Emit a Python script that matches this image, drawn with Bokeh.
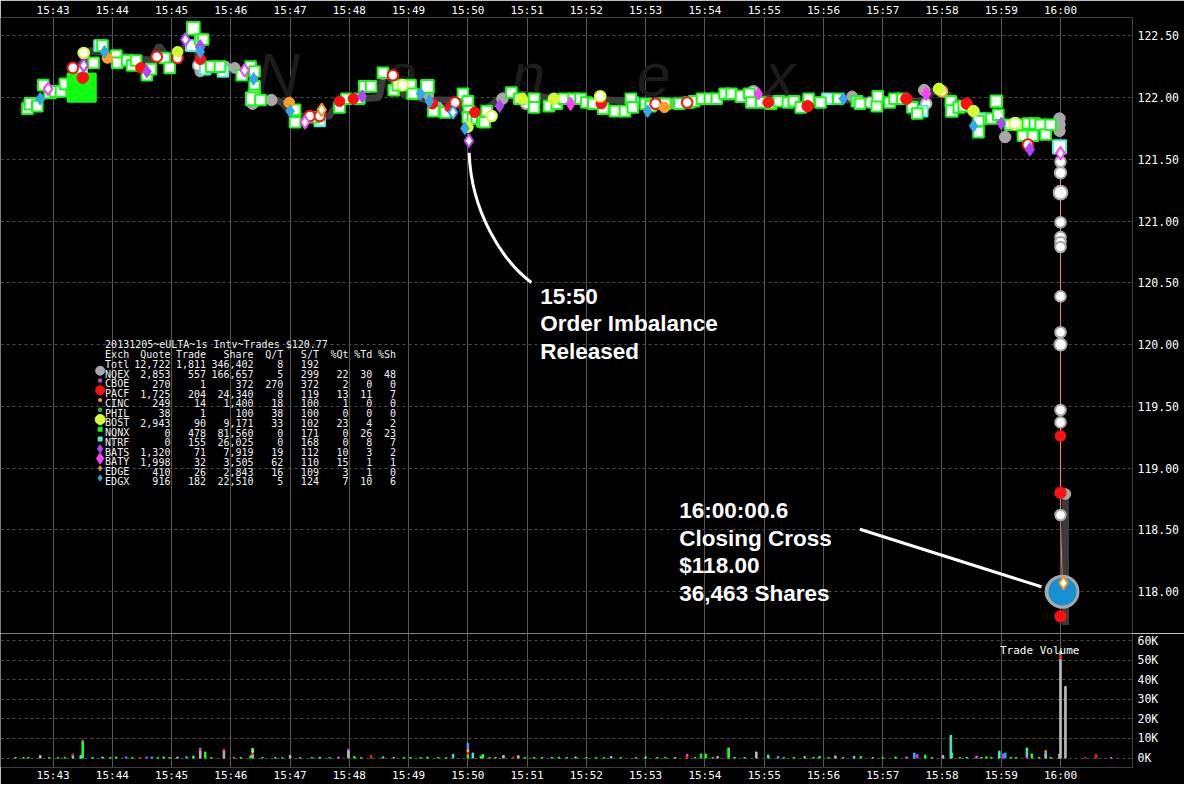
import math
import numpy as np
from bokeh.plotting import figure
from bokeh.models import ColumnDataSource, Range1d
from bokeh.layouts import column
from bokeh.embed import file_html
from bokeh.resources import INLINE
from bokeh.core.properties import value

# ---------------- axis ticks (time = seconds after 15:43:00) ----------------
minute_secs = [0, 60, 120, 180, 240, 300, 360, 420, 480, 540, 600, 660, 720, 780, 840, 900, 960, 1020]
minute_labels = ["15:43", "15:44", "15:45", "15:46", "15:47", "15:48", "15:49", "15:50", "15:51",
                 "15:52", "15:53", "15:54", "15:55", "15:56", "15:57", "15:58", "15:59", "16:00"]
price_ticks = [118.0, 118.5, 119.0, 119.5, 120.0, 120.5, 121.0, 121.5, 122.0, 122.5]
price_labels = ["118.00", "118.50", "119.00", "119.50", "120.00", "120.50", "121.00", "121.50", "122.00", "122.50"]
vol_ticks = [0, 10000, 20000, 30000, 40000, 50000, 60000]
vol_labels = ["0K", "10K", "20K", "30K", "40K", "50K", "60K"]

# ---------------- trades by exchange (sec, price, shares) ----------------
nqnx_sec = [
    -26, -23, -16, -10, -3, 2, 8, 12, 29, 41,
    50, 64, 65, 75, 80, 84, 95, 99, 113, 118,
    142, 149, 152, 160, 169, 191, 200, 204, 204, 204,
    202, 210, 245, 245, 264, 290, 297, 310, 315, 322,
    334, 345, 349, 362, 364, 379, 385, 397, 415, 420,
    421, 420, 425, 429, 435, 437, 439, 464, 472, 487,
    487, 502, 510, 517, 527, 534, 540, 547, 557, 569,
    579, 585, 587, 600, 605, 614, 620, 634, 644, 649,
    657, 665, 672, 680, 687, 697, 705, 707, 717, 727,
    735, 744, 750, 757, 765, 777, 795, 814, 817, 834,
    835, 847, 852, 860, 870, 875, 909, 910, 917, 922,
    937, 937, 950, 955, 957, 969, 980, 982, 987, 992,
    994, 1000, 1005, 1010,
]
nqnx_px = [
    121.91, 121.95, 121.93, 122.10, 122.04, 122.05, 122.05, 122.11, 122.08, 122.28,
    122.42, 122.34, 122.28, 122.30, 122.26, 122.30, 122.18, 122.23, 122.32, 122.24,
    122.56, 122.47, 122.47, 122.25, 122.25, 122.18, 122.25, 122.21, 122.09, 122.02,
    121.99, 121.98, 121.90, 121.80, 121.84, 121.92, 121.99, 121.99, 122.09, 122.09,
    122.20, 122.06, 122.10, 122.10, 122.03, 122.09, 121.89, 121.88, 122.03, 121.97,
    121.89, 121.84, 121.83, 121.83, 121.81, 121.80, 121.89, 122.04, 121.99, 121.99,
    121.92, 121.93, 121.95, 121.99, 121.99, 121.99, 121.96, 121.95, 121.91, 121.89,
    121.89, 121.99, 121.92, 121.95, 121.93, 121.95, 121.95, 121.95, 121.96, 121.97,
    121.99, 121.99, 121.99, 122.03, 122.03, 122.01, 122.03, 121.96, 121.96, 121.95,
    121.97, 121.96, 121.97, 121.92, 121.99, 121.96, 121.99, 121.97, 121.95, 121.93,
    122.01, 121.96, 121.99, 121.99, 121.92, 121.87, 121.97, 121.89, 121.92, 121.93,
    121.81, 121.72, 121.83, 121.97, 121.86, 121.78, 121.78, 121.69, 121.79, 121.69,
    121.79, 121.78, 121.70, 121.78,
]
nqnx_sh = [
    100, 200, 100, 100, 200, 100, 100, 100, 8700, 100,
    100, 100, 100, 100, 100, 100, 100, 100, 100, 100,
    400, 100, 100, 100, 100, 100, 100, 100, 100, 100,
    500, 100, 100, 100, 100, 100, 100, 100, 100, 100,
    100, 100, 100, 100, 100, 400, 100, 100, 100, 100,
    100, 100, 100, 100, 200, 100, 100, 100, 100, 100,
    100, 100, 100, 100, 100, 100, 100, 100, 100, 100,
    100, 100, 100, 100, 100, 100, 100, 100, 100, 100,
    100, 100, 100, 100, 100, 200, 100, 100, 100, 100,
    100, 100, 100, 100, 100, 100, 100, 100, 100, 100,
    100, 100, 100, 100, 100, 100, 100, 200, 100, 100,
    100, 100, 100, 200, 100, 100, 100, 100, 100, 100,
    100, 100, 100, 100,
]
ntrf_sec = [29, 47, 140, 154, 172, 270, 587, 784, 880, 940, 1019]
ntrf_px = [122.20, 122.42, 122.42, 122.23, 122.21, 121.81, 121.96, 121.99, 121.89, 121.83, 121.60]
ntrf_sh = [100, 100, 100, 100, 100, 100, 100, 100, 100, 100, 500]

nqex_sec = [149, 174, 184, 202, 221, 300, 334, 380, 390, 455, 629, 809, 882, 964, 1019, 1019, 1019, 1025, 1020]
nqex_px = [122.21, 122.25, 122.24, 121.95, 121.98, 121.99, 122.19, 122.02, 121.92, 121.99,
           121.95, 122.01, 122.06, 121.68, 121.83, 121.78, 121.73, 118.79, 118.00]
nqex_sh = [100, 200, 100, 200, 200, 100, 100, 100, 100, 200, 100, 100, 200, 200, 200, 200, 200, 100, 18000]
nqex_w_sec = [147, 479, 709, 827, 884, 1020, 1020, 1020, 1020, 1020, 1020, 1020, 1020, 1020, 1020, 1020, 1020, 1020]
nqex_w_px = [122.26, 121.95, 122.05, 121.96, 121.95, 121.48, 121.39, 121.23, 120.99, 120.87,
             120.83, 120.79, 120.39, 120.10, 120.00, 119.47, 119.37, 118.62]
nqex_w_sh = [100, 100, 100, 100, 100, 100, 200, 600, 100, 100, 100, 100, 100, 100, 300, 100, 100, 100]

pacf_sec = [30, 89, 149, 290, 304, 384, 402, 427, 555, 724, 764, 864, 925, 1020, 1020, 1020]
pacf_px = [122.16, 122.24, 122.31, 121.97, 121.99, 121.95, 121.92, 121.88, 121.95, 121.96,
           121.93, 121.99, 121.95, 119.26, 118.80, 117.80]
pacf_sh = [200, 100, 100, 100, 100, 100, 100, 100, 100, 100, 200, 200, 200, 100, 200, 200]
pacf_w_sec = [20, 105, 126, 260, 270, 344, 407, 610, 642, 987]
pacf_w_px = [122.24, 122.33, 122.32, 121.85, 121.85, 122.18, 121.96, 121.95, 121.96, 121.62]
pacf_w_sh = [100, 100, 100, 100, 100, 100, 100, 100, 100, 100]

bost_sec = [126, 420, 475, 507, 897, 932]
bost_px = [122.37, 121.76, 121.99, 121.99, 122.07, 121.89]
bost_sh = [100, 100, 100, 200, 200, 200]
bost_w_sec = [31, 354, 444, 554, 974]
bost_w_px = [122.36, 122.10, 121.85, 122.01, 121.79]
bost_w_sh = [100, 100, 100, 100, 200]

bats_sec = [95, 149, 313, 452, 960, 989]
bats_px = [122.21, 122.41, 122.01, 121.93, 121.79, 121.58]
bats_sh = [100, 300, 100, 100, 100, 200]
bats_w_sec = [31, 134, 421]
bats_w_px = [122.26, 122.47, 121.65]
bats_w_sh = [100, 100, 100]

baty_sec = [524, 714, 884]
baty_px = [121.95, 122.03, 122.03]
baty_sh = [200, 100, 200]
baty_w_sec = [-5, 194, 255, 1020]
baty_w_px = [122.07, 122.22, 121.80, 121.55]
baty_w_sh = [100, 100, 100, 100]

edgx_sec = [-13, 52, 149, 203, 240, 372, 381, 417, 602, 800, 932]
edgx_px = [121.99, 122.37, 122.37, 122.15, 121.89, 122.03, 121.97, 121.75, 121.89, 121.99, 121.77]
edgx_sh = [100, 100, 100, 100, 100, 100, 100, 100, 100, 100, 100]
edgx_w_sec = [405]
edgx_w_px = [121.88]
edgx_w_sh = [100]

edge_w_sec = [272, 1023]
edge_w_px = [121.90, 118.07]
edge_w_sh = [100, 100]

cinc_sec = [55, 239, 619]
cinc_px = [122.32, 121.96, 121.92]
cinc_sh = [100, 100, 100]
cinc_w_sec = [900]
cinc_w_px = [122.05]
cinc_w_sh = [100]

cross_sec = [1022]
cross_px = [118.00]
cross_sh = [36463]

# NBBO mid (dark band); NaN = gap
nbbo_sec = [-32, -20, 0, 15, 37, 60, 100, 107, 118, 140,
            150, 160, 200, 205, 230, 245, 280, 290, 330, 335,
            345, 355, 380, 410, 420, 430, 460, 500, 545, 560,
            600, 700, 800, 880, 890, 905, 935, 960, 1018, float("nan"),
            1025, 1025]
nbbo_mid = [121.95, 121.95, 122.05, 122.10, 122.38, 122.35, 122.30, 122.42, 122.30, 122.45,
            122.30, 122.22, 122.22, 121.98, 121.97, 121.85, 121.85, 121.98, 122.00, 122.20,
            122.13, 122.02, 121.98, 121.98, 121.80, 121.85, 122.04, 122.00, 121.97, 121.98,
            121.97, 122.00, 121.98, 121.97, 122.05, 122.03, 121.85, 121.80, 121.78, float("nan"),
            118.78, 117.73]

# ---------------- trade volume by exchange (sec, shares) ----------------
vol_nqex_sec = [-30, -13, 20, 126, 149, 173, 202, 240, 299, 345, 456, 471, 630, 673, 712, 792, 901, 1005, 1019, 1020, 1025]
vol_nqex_sh = [200, 1300, 1400, 500, 4000, 4000, 2000, 1300, 4000, 300, 1300, 1200, 300, 800, 3100, 1100, 1300, 2500, 2100, 50500, 36500]
vol_nqnx_sec = [-38, -25, -4, 5, 12, 30, 40, 58, 64, 80,
                106, 112, 118, 142, 154, 160, 190, 200, 212, 232,
                250, 262, 280, 305, 312, 355, 362, 372, 379, 390,
                398, 420, 433, 435, 442, 448, 478, 487, 495, 512,
                520, 540, 550, 558, 575, 590, 612, 620, 650, 656,
                661, 668, 684, 690, 700, 740, 750, 761, 770, 776,
                785, 800, 818, 830, 840, 853, 883, 890, 910, 918,
                925, 940, 945, 950, 970, 975, 991, 998, 1010]
vol_nqnx_sh = [300, 300, 300, 200, 400, 8800, 300, 200, 500, 300,
               300, 600, 300, 1000, 3100, 300, 300, 1200, 300, 200,
               300, 300, 200, 800, 300, 300, 300, 300, 500, 300,
               200, 2000, 800, 1800, 300, 300, 300, 300, 300, 500,
               300, 300, 300, 300, 300, 300, 300, 300, 300, 2100,
               2100, 300, 5100, 300, 300, 300, 300, 800, 300, 800,
               300, 300, 800, 300, 300, 600, 1500, 300, 2600, 300,
               300, 300, 600, 300, 300, 300, 2100, 300, 300]
vol_pacf_sec = [20, 30, 88, 149, 173, 202, 322, 420, 466, 642, 1020, 1045, 1056]
vol_pacf_sh = [700, 500, 300, 500, 600, 1000, 1300, 1500, 500, 1200, 2500, 300, 1800]
vol_bost_sec = [202, 420]
vol_bost_sh = [1000, 1000]
vol_baty_sec = [149, 183, 289, 420, 642, 864, 935, 986, 1071]
vol_baty_sh = [500, 300, 500, 1000, 600, 600, 1000, 1100, 300]
vol_bats_sec = [95, 299, 875, 962]
vol_bats_sh = [600, 600, 1800, 2100]
vol_edgx_sec = [74, 100, 135, 405, 420, 734, 872, 964, 1005]
vol_edgx_sh = [600, 600, 700, 800, 2100, 800, 2600, 2600, 700]
vol_edge_sec = [1005]
vol_edge_sh = [600]
vol_ntrf_sec = [28, 50, 202, 225, 270, 334, 405, 425, 505, 529, 565, 600, 724, 811, 909, 958, 986, 1020]
vol_ntrf_sh = [1200, 500, 1000, 300, 400, 600, 1000, 2600, 300, 600, 800, 600, 1500, 800, 11600, 3500, 4000, 1500]

# ---------------- summary table ----------------
tbl_title = "20131205~eULTA~1s Intv~Trades $120.77"
tbl_exch = ["Totl", "NQEX", "CBOE", "PACF", "CINC", "PHIL", "BOST", "NQNX", "NTRF", "BATS", "BATY", "EDGE", "EDGX"]
tbl_quote = [12722, 2853, 270, 1725, 249, 38, 2943, 0, 0, 1320, 1998, 410, 916]
tbl_trade = [1811, 557, 1, 204, 14, 1, 90, 478, 155, 71, 32, 26, 182]
tbl_share = [346402, 166657, 372, 24340, 1400, 100, 9171, 81560, 26025, 7919, 3505, 2843, 22510]
tbl_qt = [8, 5, 270, 8, 18, 38, 33, 0, 0, 19, 62, 16, 5]
tbl_st = [192, 299, 372, 119, 100, 100, 102, 171, 168, 112, 110, 109, 124]
tbl_pqt = [None, 22, 2, 13, 1, 0, 23, 0, 0, 10, 15, 3, 7]
tbl_ptd = [None, 30, 0, 11, 0, 0, 4, 26, 8, 3, 1, 1, 10]
tbl_psh = [None, 48, 0, 7, 0, 0, 2, 23, 7, 2, 1, 0, 6]

# ---------------- styles ----------------
EX_STYLE = {
    "NQEX": ("circle", "#a8a8a8"),
    "CBOE": ("square", "#d040d0"),
    "PACF": ("circle", "#ff1010"),
    "CINC": ("circle", "#ffa020"),
    "PHIL": ("square", "#30c030"),
    "BOST": ("circle", "#d4ff30"),
    "NQNX": ("square", "#10ff10"),
    "NTRF": ("square", "#48f0d0"),
    "BATS": ("diamond", "#b444ff"),
    "BATY": ("diamond", "#ff40ff"),
    "EDGE": ("diamond", "#f09020"),
    "EDGX": ("diamond", "#30a8ec"),
}
LEGEND_SIZE = {"NQEX": 9, "CBOE": 3, "PACF": 9, "CINC": 3, "PHIL": 3, "BOST": 10,
               "NQNX": 4, "NTRF": 4, "BATS": 8, "BATY": 11, "EDGE": 5, "EDGX": 6}

# ---------------- layout: figure = reference canvas scaled to 1184x784 ----------------
W, H1, H2 = 1184, 633, 151
RB, TB, BB = 52, 14, 16
SX, SY = 1184.0 / 1200.0, 784.0 / 800.0


def t_at(x):      # reference pixel x -> seconds after 15:43
    return (x - 53.3) / 1.001


def p_at(y):      # reference pixel y -> price
    return 118.0 + (603.0 - y) / 126.67


def v_at(y):      # reference pixel y -> shares
    return (774.0 - y) * 60000.0 / 121.0


def msize(sh):
    return min(31.0, 8.5 + 2.1 * math.sqrt(sh / 100.0))


def style_axis(ax, size, standoff):
    ax.axis_line_color = None
    ax.major_tick_line_color = None
    ax.minor_tick_line_color = None
    ax.major_tick_out = 0
    ax.major_tick_in = 0
    ax.major_label_standoff = standoff
    ax.major_label_text_color = "#ffffff"
    ax.major_label_text_font = "DejaVu Sans Mono"
    ax.major_label_text_font_size = size


def style_grids(fig):
    fig.xgrid.grid_line_color = "#585858"
    fig.xgrid.grid_line_width = 1
    fig.ygrid.grid_line_color = "#4c4c4c"
    fig.ygrid.grid_line_dash = "3 3"
    fig.ygrid.grid_line_width = 1


x_range = Range1d(t_at(0), t_at((W - RB) / SX))

common = dict(output_backend="svg", toolbar_location=None, tools="",
              min_border_left=0, min_border_right=RB,
              background_fill_color="black", border_fill_color="black",
              outline_line_color=None)

# ======================= price panel =======================
p = figure(width=W, height=H1, x_range=x_range,
           y_range=Range1d(p_at(H1 / SY), p_at(TB / SY)),
           x_axis_location="above", y_axis_location="right",
           min_border_top=TB, min_border_bottom=0, **common)
p.xaxis.ticker = minute_secs
p.xaxis.major_label_overrides = {s: l for s, l in zip(minute_secs, minute_labels)}
p.yaxis.ticker = price_ticks
p.yaxis.major_label_overrides = {t: l for t, l in zip(price_ticks, price_labels)}
style_axis(p.xaxis[0], "11px", 1)
style_axis(p.yaxis[0], "11.5px", 5)
style_grids(p)

# watermark
wm_letters = ["N", "a", "n", "e", "x"]
wm_x = [281, 406, 535, 662, 790]
p.text(x=[t_at(v) for v in wm_x], y=[p_at(73)] * 5, text=wm_letters,
       text_font=value("Liberation Sans"), text_font_style="italic", text_font_size="61px",
       text_color="#1c1c1c", text_align="center", text_baseline="alphabetic")

# NBBO band
p.line(np.array(nbbo_sec, dtype=float), np.array(nbbo_mid, dtype=float),
       line_color="#3c3c3c", line_width=7)

# trade line through the closing drop
drop = []
for secs, pxs in [(ntrf_sec, ntrf_px), (baty_w_sec, baty_w_px), (nqex_w_sec, nqex_w_px),
                  (pacf_sec, pacf_px), (cross_sec, cross_px)]:
    for s, v in zip(secs, pxs):
        if 1019 <= s <= 1023 and v >= 118.0:
            drop.append((s, v))
drop.sort(key=lambda d: -d[1])
p.line([d[0] for d in drop], [d[1] for d in drop], line_color="#ff8080", line_width=1)


def add_prints(sec, px, sh, ex, hollow):
    marker, color = EX_STYLE[ex]
    k = 1.2 if marker == "diamond" else 1.0
    src = ColumnDataSource(dict(
        x=sec, y=px,
        s=[msize(v) * k for v in sh],
        f=[("white" if (hollow and v < 5000) else color) for v in sh],
    ))
    p.scatter("x", "y", source=src, size="s", marker=marker, fill_color="f",
              line_color=color, line_width=2 if hollow else 1)


add_prints(nqex_sec, nqex_px, nqex_sh, "NQEX", False)
add_prints(nqex_w_sec, nqex_w_px, nqex_w_sh, "NQEX", True)
add_prints(ntrf_sec, ntrf_px, ntrf_sh, "NTRF", True)
add_prints(nqnx_sec, nqnx_px, nqnx_sh, "NQNX", True)
p.scatter(cross_sec, cross_px, size=[msize(v) for v in cross_sh], marker="circle",
          fill_color="#1690d2", line_color="#a8a8a8", line_width=3)
add_prints(pacf_sec, pacf_px, pacf_sh, "PACF", False)
add_prints(pacf_w_sec, pacf_w_px, pacf_w_sh, "PACF", True)
add_prints(cinc_sec, cinc_px, cinc_sh, "CINC", False)
add_prints(cinc_w_sec, cinc_w_px, cinc_w_sh, "CINC", True)
add_prints(bost_sec, bost_px, bost_sh, "BOST", False)
add_prints(bost_w_sec, bost_w_px, bost_w_sh, "BOST", True)
add_prints(bats_sec, bats_px, bats_sh, "BATS", False)
add_prints(bats_w_sec, bats_w_px, bats_w_sh, "BATS", True)
add_prints(baty_sec, baty_px, baty_sh, "BATY", False)
add_prints(baty_w_sec, baty_w_px, baty_w_sh, "BATY", True)
add_prints(edgx_sec, edgx_px, edgx_sh, "EDGX", False)
add_prints(edgx_w_sec, edgx_w_px, edgx_w_sh, "EDGX", True)
add_prints(edge_w_sec, edge_w_px, edge_w_sh, "EDGE", True)

# annotations
p.bezier(x0=[t_at(475)], y0=[p_at(153)], x1=[t_at(538)], y1=[p_at(286)],
         cx0=[t_at(477)], cy0=[p_at(215)], cx1=[t_at(510)], cy1=[p_at(265)],
         line_color="white", line_width=3)
p.line([t_at(871), t_at(1055)], [p_at(539), p_at(598)], line_color="white", line_width=3)

ann1 = ["15:50", "Order Imbalance", "Released"]
ann1_base = [300, 328.5, 357]
ann2 = ["16:00:00.6", "Closing Cross", "$118.00", "36,463 Shares"]
ann2_base = [519.5, 548, 576.5, 605]
p.text(x=[t_at(547)] * 3, y=[p_at(b) for b in ann1_base], text=ann1,
       text_font=value("Liberation Sans"), text_font_style="bold", text_font_size="22.5px",
       text_color="white", text_align="left", text_baseline="alphabetic")
p.text(x=[t_at(688)] * 4, y=[p_at(b) for b in ann2_base], text=ann2,
       text_font=value("Liberation Sans"), text_font_style="bold", text_font_size="22.5px",
       text_color="white", text_align="left", text_baseline="alphabetic")


# summary table
def fmt(v):
    return "" if v is None else f"{v:,}"


CW = 6.02
TX0 = 106.0
row_base = [350.0 + 10.0 * i for i in range(15)]
TXT = dict(text_font=value("DejaVu Sans Mono"), text_font_size="10px",
           text_color="#f2f2f2", text_baseline="alphabetic")
p.text(x=[t_at(TX0)], y=[p_at(row_base[0])], text=[tbl_title], text_align="left", **TXT)
cols = [
    (0, "left", "Exch", tbl_exch),
    (11, "right", "Quote", [fmt(v) for v in tbl_quote]),
    (17, "right", "Trade", [fmt(v) for v in tbl_trade]),
    (25, "right", "Share", [fmt(v) for v in tbl_share]),
    (30, "right", "Q/T", [fmt(v) for v in tbl_qt]),
    (36, "right", "S/T", [fmt(v) for v in tbl_st]),
    (41, "right", "%Qt", [fmt(v) for v in tbl_pqt]),
    (45, "right", "%Td", [fmt(v) for v in tbl_ptd]),
    (49, "right", "%Sh", [fmt(v) for v in tbl_psh]),
]
for col, align, head, vals in cols:
    texts = [head] + list(vals)
    p.text(x=[t_at(TX0 + col * CW)] * len(texts), y=[p_at(b) for b in row_base[1:1 + len(texts)]],
           text=texts, text_align=align, **TXT)

for i, ex in enumerate(tbl_exch[1:]):
    marker, color = EX_STYLE[ex]
    p.scatter([t_at(101)], [p_at(row_base[3 + i] - 3.5)], marker=marker, size=LEGEND_SIZE[ex],
              fill_color=color, line_color=color)

# ======================= volume panel =======================
p2 = figure(width=W, height=H2, x_range=x_range,
            y_range=Range1d(v_at((H1 + H2 - BB) / SY), v_at(H1 / SY)),
            x_axis_location="below", y_axis_location="right",
            min_border_top=0, min_border_bottom=BB, **common)
p2.xaxis.ticker = minute_secs
p2.xaxis.major_label_overrides = {s: l for s, l in zip(minute_secs, minute_labels)}
p2.yaxis.ticker = vol_ticks
p2.yaxis.major_label_overrides = {t: l for t, l in zip(vol_ticks, vol_labels)}
style_axis(p2.xaxis[0], "11px", 1)
style_axis(p2.yaxis[0], "11.5px", 5)
style_grids(p2)

VOL_COLOR = {"NQEX": "#b8b8b8", "NQNX": "#20ff20", "PACF": "#ff2020", "BOST": "#e0ff40",
             "BATY": "#ff40ff", "BATS": "#b040ff", "EDGX": "#30a8ff", "EDGE": "#ff9900",
             "NTRF": "#40f0d0"}
stack = {}
vx, vb, vt, vc = [], [], [], []
for ex, secs, shs in [("NQEX", vol_nqex_sec, vol_nqex_sh), ("NQNX", vol_nqnx_sec, vol_nqnx_sh),
                      ("PACF", vol_pacf_sec, vol_pacf_sh), ("BOST", vol_bost_sec, vol_bost_sh),
                      ("BATY", vol_baty_sec, vol_baty_sh), ("BATS", vol_bats_sec, vol_bats_sh),
                      ("EDGX", vol_edgx_sec, vol_edgx_sh), ("EDGE", vol_edge_sec, vol_edge_sh),
                      ("NTRF", vol_ntrf_sec, vol_ntrf_sh)]:
    for s, v in zip(secs, shs):
        b = stack.get(s, 0)
        vx.append(s)
        vb.append(b)
        vt.append(b + v)
        vc.append(VOL_COLOR[ex])
        stack[s] = b + v
p2.vbar(x="x", bottom="b", top="t", width=1.6, color="c",
        source=ColumnDataSource(dict(x=vx, b=vb, t=vt, c=vc)))
p2.text(x=[t_at(1013)], y=[v_at(663)], text=["Trade Volume"],
        text_font=value("DejaVu Sans Mono"), text_font_size="11px", text_color="white",
        text_align="left", text_baseline="alphabetic")

layout = column(p, p2, spacing=0)
open("out.html", "w").write(file_html(layout, INLINE))
